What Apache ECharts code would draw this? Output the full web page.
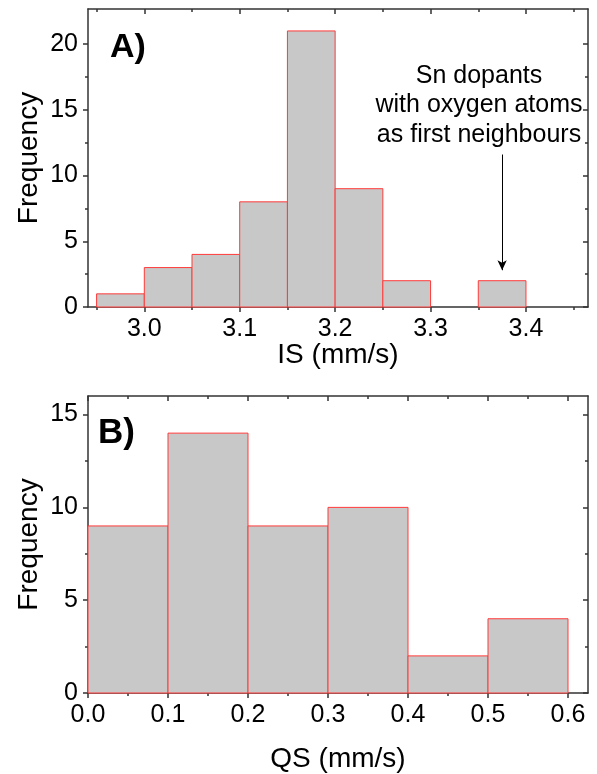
<!DOCTYPE html>
<html>
<head>
<meta charset="utf-8">
<script src="https://cdn.jsdelivr.net/npm/echarts@6/dist/echarts.min.js"></script>
<style>
html,body{margin:0;padding:0;background:#fff;}
#main{width:597px;height:774px;}
</style>
</head>
<body>
<div id="main"></div>
<script>
// ---- Data (panel A: isomer shift histogram) ----
const isBinEdges = [2.95, 3.00, 3.05, 3.10, 3.15, 3.20, 3.25, 3.30, 3.35, 3.40];
const isCounts   = [1, 3, 4, 8, 21, 9, 2, 0, 2];
const isMajorTicks = [3.0, 3.1, 3.2, 3.3, 3.4];
const isMinorTicks = [2.95, 3.05, 3.15, 3.25, 3.35, 3.45];
const isYMajor = [0, 5, 10, 15, 20];
const isYMinor = [2.5, 7.5, 12.5, 17.5];

// ---- Data (panel B: quadrupole splitting histogram) ----
const qsBinEdges = [0.0, 0.1, 0.2, 0.3, 0.4, 0.5, 0.6];
const qsCounts   = [9, 14, 9, 10, 2, 4];
const qsMajorTicks = [0.0, 0.1, 0.2, 0.3, 0.4, 0.5, 0.6];
const qsMinorTicks = [0.05, 0.15, 0.25, 0.35, 0.45, 0.55];
const qsYMajor = [0, 5, 10, 15];
const qsYMinor = [2.5, 7.5, 12.5];

// ---- Annotation ----
const annotationLines = ['Sn dopants', 'with oxygen atoms', 'as first neighbours'];
const arrowFrom = [3.375, 11.6];
const arrowTo   = [3.375, 2.8];

const AX = '#333';
const FONT = 'Liberation Sans, Arial, sans-serif';

function histData(edges, counts){
  return counts.map((c,i)=>[edges[i], edges[i+1], c]);
}
function histItem(params, api){
  const x0 = api.value(0), x1 = api.value(1), v = api.value(2);
  if (!v) return null;
  const p0 = api.coord([x0, v]), p1 = api.coord([x1, 0]);
  return {
    type: 'rect',
    shape: {x: p0[0], y: p0[1], width: p1[0]-p0[0], height: p1[1]-p0[1]},
    style: {fill: '#c8c8c8', stroke: '#ff3a3a', lineWidth: 1}
  };
}

function xAxes(grid, min, max, majors, minors, name, nameGap){
  const base = {type:'value', gridIndex:grid, min:min, max:max, splitLine:{show:false}};
  return [
    Object.assign({}, base, {
      position:'bottom', name:name, nameLocation:'middle', nameGap:nameGap, nameMoveOverlap:false,
      nameTextStyle:{fontSize:28, color:'#000', fontFamily:FONT},
      axisLine:{show:true, onZero:false, lineStyle:{color:AX, width:1.5}},
      axisTick:{show:true, inside:false, length:5, customValues:majors, lineStyle:{color:AX, width:1.5}},
      axisLabel:{show:true, customValues:majors, margin:10, fontSize:25, color:'#000', fontFamily:FONT,
        formatter:(v)=>Number(v).toFixed(1)}
    }),
    Object.assign({}, base, {
      position:'bottom',
      axisLine:{show:false, onZero:false},
      axisTick:{show:true, inside:false, length:3, customValues:minors, lineStyle:{color:AX, width:1.5}},
      axisLabel:{show:false}
    }),
    Object.assign({}, base, {
      position:'top',
      axisLine:{show:true, onZero:false, lineStyle:{color:AX, width:1.5}},
      axisTick:{show:true, inside:true, length:5, customValues:majors, lineStyle:{color:AX, width:1.5}},
      axisLabel:{show:false}
    }),
    Object.assign({}, base, {
      position:'top',
      axisLine:{show:false, onZero:false},
      axisTick:{show:true, inside:true, length:3, customValues:minors, lineStyle:{color:AX, width:1.5}},
      axisLabel:{show:false}
    })
  ];
}
function yAxes(grid, min, max, majors, minors, name, nameGap){
  const base = {type:'value', gridIndex:grid, min:min, max:max, splitLine:{show:false}};
  return [
    Object.assign({}, base, {
      position:'left', name:name, nameLocation:'middle', nameGap:nameGap, nameRotate:90, nameMoveOverlap:false,
      nameTextStyle:{fontSize:28, color:'#000', fontFamily:FONT},
      axisLine:{show:true, onZero:false, lineStyle:{color:AX, width:1.5}},
      axisTick:{show:true, inside:false, length:5, customValues:majors, lineStyle:{color:AX, width:1.5}},
      axisLabel:{show:true, customValues:majors, margin:10, fontSize:25, color:'#000', fontFamily:FONT}
    }),
    Object.assign({}, base, {
      position:'left',
      axisLine:{show:false, onZero:false},
      axisTick:{show:true, inside:false, length:3, customValues:minors, lineStyle:{color:AX, width:1.5}},
      axisLabel:{show:false}
    }),
    Object.assign({}, base, {
      position:'right',
      axisLine:{show:true, onZero:false, lineStyle:{color:AX, width:1.5}},
      axisTick:{show:true, inside:true, length:5, customValues:majors, lineStyle:{color:AX, width:1.5}},
      axisLabel:{show:false}
    }),
    Object.assign({}, base, {
      position:'right',
      axisLine:{show:false, onZero:false},
      axisTick:{show:true, inside:true, length:3, customValues:minors, lineStyle:{color:AX, width:1.5}},
      axisLabel:{show:false}
    })
  ];
}

const chart = echarts.init(document.getElementById('main'), null, {renderer:'canvas'});
const option = {
  animation:false,
  backgroundColor:'#fff',
  textStyle:{fontFamily:FONT},
  grid:[
    {left:88, top:9, width:500, height:298},
    {left:88, top:396, width:500, height:298}
  ],
  xAxis: [].concat(
    xAxes(0, 2.941, 3.465, isMajorTicks, isMinorTicks, 'IS (mm/s)', 34),
    xAxes(1, 0, 0.625, qsMajorTicks, qsMinorTicks, 'QS (mm/s)', 52)
  ),
  yAxis: [].concat(
    yAxes(0, 0, 22.67, isYMajor, isYMinor, 'Frequency', 45),
    yAxes(1, 0, 16, qsYMajor, qsYMinor, 'Frequency', 45)
  ),
  series:[
    {type:'custom', xAxisIndex:0, yAxisIndex:0, renderItem:histItem,
     encode:{x:[0,1], y:2}, data:histData(isBinEdges, isCounts), silent:true},
    {type:'custom', xAxisIndex:4, yAxisIndex:4, renderItem:histItem,
     encode:{x:[0,1], y:2}, data:histData(qsBinEdges, qsCounts), silent:true},
    {type:'line', xAxisIndex:0, yAxisIndex:0, data:[], silent:true,
     markLine:{silent:true, symbol:['none','arrow'], symbolSize:[7,10], label:{show:false},
       lineStyle:{color:'#000', width:1, type:'solid'},
       data:[[{coord:arrowFrom},{coord:arrowTo}]]}}
  ],
  graphic:[
    {type:'text', x:479, y:61, style:{text:annotationLines.join('\n'), align:'center',
      verticalAlign:'top', font:'25px ' + FONT, lineHeight:29.5, fill:'#000'}},
    {type:'text', x:110, y:31, style:{text:'A)', font:'bold 34px ' + FONT, fill:'#000'}},
    {type:'text', x:98, y:416, style:{text:'B)', font:'bold 35px ' + FONT, fill:'#000'}}
  ]
};
chart.setOption(option);
</script>
</body>
</html>
